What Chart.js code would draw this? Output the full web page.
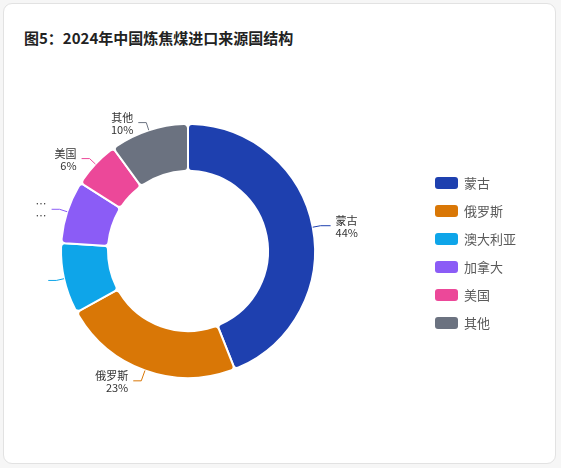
<!DOCTYPE html>
<html>
<head>
<meta charset="utf-8">
<script src="https://cdn.jsdelivr.net/npm/chart.js@4.4.1/dist/chart.umd.min.js"></script>
<style>
html,body{margin:0;padding:0;background:#f6f6f6;width:561px;height:468px;overflow:hidden;font-family:"Noto Sans CJK SC","Noto Sans",sans-serif;}
#card{position:absolute;left:3px;top:3px;width:551px;height:459px;background:#fff;border:1px solid #e2e2e2;border-radius:9px;}
#title{position:absolute;left:24px;top:28px;line-height:20px;font-size:15px;font-weight:bold;color:#222;white-space:nowrap;}
#wrap{position:absolute;left:0;top:0;width:561px;height:468px;}
</style>
</head>
<body>
<div id="card"></div>
<div id="title">图5：2024年中国炼焦煤进口来源国结构</div>
<div id="wrap"><canvas id="c" width="561" height="468"></canvas></div>
<script>
const categories = ['蒙古', '俄罗斯', '澳大利亚', '加拿大', '美国', '其他'];
const shares = [44, 23, 9, 8, 6, 10];
const colors = ['#1e40af', '#d97706', '#0ea5e9', '#8b5cf6', '#ec4899', '#6b7280'];

const FONT = '"Noto Sans CJK SC","Noto Sans",sans-serif';

const outLabels = {
  id: 'outLabels',
  afterDatasetsDraw(chart) {
    const ctx = chart.ctx;
    const meta = chart.getDatasetMeta(0);
    const leftBound = 33;
    ctx.save();
    ctx.font = '11px ' + FONT;
    ctx.textBaseline = 'middle';
    meta.data.forEach((arc, i) => {
      const p = arc.getProps(['x', 'y', 'startAngle', 'endAngle', 'outerRadius'], true);
      const mid = (p.startAngle + p.endAngle) / 2;
      const c = Math.cos(mid), s = Math.sin(mid);
      const r0 = p.outerRadius;
      const x0 = p.x + c * r0, y0 = p.y + s * r0;
      const ext = s > 0.5 ? 11 : 8;
      const x1 = p.x + c * (r0 + ext), y1 = p.y + s * (r0 + ext);
      const right = c >= 0;
      const x2 = x1 + (right ? 10 : -8);
      ctx.strokeStyle = colors[i];
      ctx.lineWidth = 1;
      ctx.beginPath();
      ctx.moveTo(x0, y0);
      ctx.lineTo(x1, y1);
      ctx.lineTo(x2, y1);
      ctx.stroke();
      const tx = x2 + (right ? 5 : -5);
      ctx.textAlign = right ? 'left' : 'right';
      ctx.fillStyle = '#333';
      let lines = [categories[i], shares[i] + '%'];
      if (!right) {
        const maxW = tx - leftBound;
        const tooWide = lines.some(t => ctx.measureText(t).width > maxW);
        if (tooWide) {
          if (ctx.measureText('…').width <= maxW) lines = ['…', '…'];
          else lines = [];
        }
      }
      lines.forEach((t, k) => {
        ctx.fillText(t, tx, y1 + (k === 0 ? -5 : 7));
      });
    });
    ctx.restore();
  }
};

const legendPlugin = {
  id: 'sideLegend',
  afterDraw(chart) {
    const ctx = chart.ctx;
    ctx.save();
    ctx.font = '13px ' + FONT;
    ctx.textBaseline = 'middle';
    ctx.textAlign = 'left';
    categories.forEach((name, i) => {
      const cy = 183 + i * 28;
      ctx.fillStyle = colors[i];
      ctx.beginPath();
      ctx.roundRect(435, cy - 6, 23, 12, 3);
      ctx.fill();
      ctx.fillStyle = '#5a5a5a';
      ctx.fillText(name, 464, cy);
    });
    ctx.restore();
  }
};

new Chart(document.getElementById('c'), {
  type: 'doughnut',
  data: {
    labels: categories,
    datasets: [{
      data: shares,
      backgroundColor: colors,
      borderColor: '#ffffff',
      borderWidth: 2,
      borderRadius: 4,
      hoverOffset: 0
    }]
  },
  options: {
    responsive: false,
    animation: false,
    cutout: '63%',
    layout: { padding: { left: 60, top: 123, right: 245, bottom: 89 } },
    plugins: {
      legend: { display: false },
      tooltip: { enabled: false }
    }
  },
  plugins: [outLabels, legendPlugin]
});
</script>
</body>
</html>
